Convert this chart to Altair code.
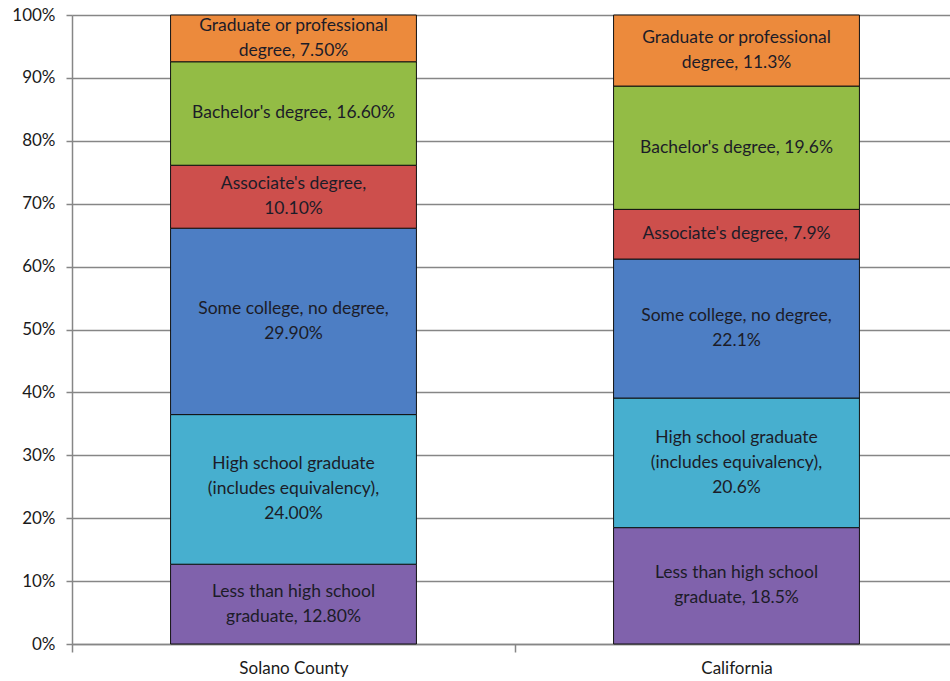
import altair as alt
import pandas as pd

regions = ["Solano County"] * 6 + ["California"] * 6
levels = [
    "Less than high school graduate",
    "High school graduate (includes equivalency)",
    "Some college, no degree",
    "Associate's degree",
    "Bachelor's degree",
    "Graduate or professional degree",
] * 2
order = [1, 2, 3, 4, 5, 6] * 2
values = [12.8, 24.0, 29.9, 10.1, 16.6, 7.5,
          18.5, 20.6, 22.1, 7.9, 19.6, 11.3]
labels = [
    "Less than high school\ngraduate, 12.80%",
    "High school graduate\n(includes equivalency),\n24.00%",
    "Some college, no degree,\n29.90%",
    "Associate's degree,\n10.10%",
    "Bachelor's degree, 16.60%",
    "Graduate or professional\ndegree, 7.50%",
    "Less than high school\ngraduate, 18.5%",
    "High school graduate\n(includes equivalency),\n20.6%",
    "Some college, no degree,\n22.1%",
    "Associate's degree, 7.9%",
    "Bachelor's degree, 19.6%",
    "Graduate or professional\ndegree, 11.3%",
]
level_names = levels[:6]
colors = ["#8062AC", "#47AFCF", "#4D7EC4", "#CD4F4C", "#93BC45", "#EC8A3C"]
region_order = ["Solano County", "California"]

df = pd.DataFrame({"region": regions, "level": levels, "order": order,
                   "value": values, "label": labels})
df["nlines"] = df["label"].str.count("\n") + 1

LINE_H = 25

base = alt.Chart(df).transform_stack(
    stack="value", as_=["y0", "y1"], groupby=["region"],
    sort=[alt.SortField("order")], offset="normalize"
).transform_calculate(mid="(datum.y0 + datum.y1) / 2")

x_scale = alt.Scale(paddingInner=0, paddingOuter=0, range=[0, 886])

x_enc = alt.X("region:N", sort=region_order, title=None, scale=x_scale,
              axis=alt.Axis(labelAngle=0, labelFont="Lato", labelFontSize=17,
                            labelColor="#1a1a1a", labelPadding=8,
                            tickBand="extent", tickSize=8, tickColor="#868686",
                            tickWidth=1.5, domainColor="#868686", domainWidth=1.5,
                            grid=False))

bars = base.mark_bar(stroke="#111111", strokeWidth=1,
                     width=alt.RelativeBandSize(0.555)).encode(
    x=x_enc,
    y=alt.Y("y0:Q", title=None,
            scale=alt.Scale(domain=[0, 1], nice=False),
            axis=alt.Axis(format="%", values=[i / 10 for i in range(11)],
                          labelFont="Lato", labelFontSize=17, labelColor="#1a1a1a",
                          labelPadding=11, tickSize=6, tickColor="#868686",
                          tickWidth=1.5, domainColor="#868686", domainWidth=1.5,
                          gridColor="#868686", gridWidth=1.5)),
    y2="y1:Q",
    color=alt.Color("level:N", scale=alt.Scale(domain=level_names, range=colors),
                    legend=None),
)

text_layers = []
for n in [1, 2, 3]:
    text_layers.append(
        base.transform_filter(alt.datum.nlines == n).mark_text(
            font="Lato", fontSize=17.5, color="#1c1c28", lineBreak="\n",
            lineHeight=LINE_H, align="center", baseline="middle",
            dy=-(n - 1) * LINE_H / 2,
        ).encode(
            x=alt.X("region:N", sort=region_order),
            y=alt.Y("mid:Q"),
            text="label:N",
        )
    )

chart = alt.layer(bars, *text_layers).properties(
    width=878, height=629,
    autosize=alt.AutoSizeParams(type="none"),
    padding={"left": 72, "top": 15, "right": 0, "bottom": 37},
).configure_view(stroke=None).configure(background="white")

chart.save("out.html", embed_options={"renderer": "svg", "actions": False})
